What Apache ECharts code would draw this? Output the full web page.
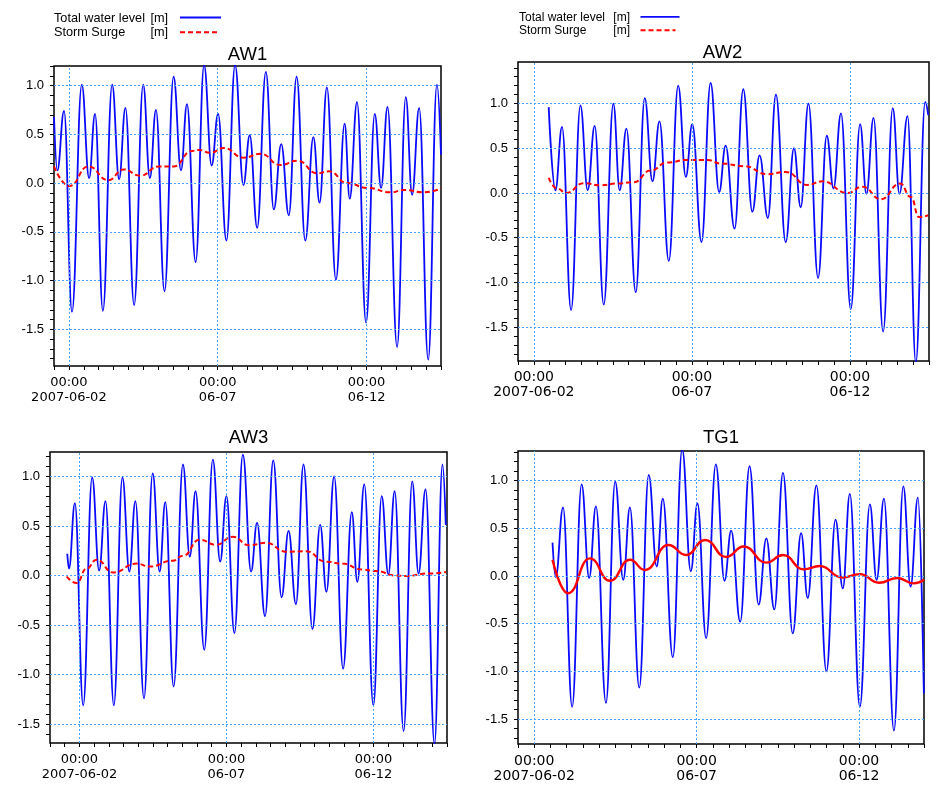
<!DOCTYPE html>
<html><head><meta charset="utf-8">
<script src="https://cdn.jsdelivr.net/npm/echarts@6/dist/echarts.min.js"></script>
<style>html,body{margin:0;padding:0;background:#fff}#c{width:936px;height:791px}</style>
</head><body><div id="c"></div>
<script>
// Times are hours after 2007-06-01 00:00, values in metres
const aw1LevelHours = [12.0,14.7,20.1,26.5,34.4,40.3,45.1,51.4,58.9,64.5,69.6,76.6,83.9,89.3,94.2,101.1,108.4,114.4,119.2,126.2,133.0,139.1,144.3,151.0,158.0,164.7,169.8,175.8,182.8,189.2,195.2,201.3,207.6,214.6,221.1,226.1,232.0,239.3,246.3,250.4,256.3,263.6,270.6,275.7,280.9,288.6,295.6,300.7,306.4,313.7,320.7,324.0];
const aw1Level = [0.68,0.13,0.74,-1.32,1.01,0.05,0.71,-1.31,1.01,0.04,0.77,-1.25,1.01,0.05,0.75,-1.11,1.09,0.13,0.81,-0.81,1.21,0.18,0.71,-0.59,1.21,-0.02,0.49,-0.46,1.14,-0.27,0.40,-0.33,1.09,-0.59,0.47,-0.20,0.98,-0.99,0.61,-0.16,0.83,-1.43,0.71,-0.05,0.78,-1.68,0.88,-0.12,0.77,-1.81,1.01,0.29];
const aw1SurgeHours = [12.0,24.4,39.7,55.9,68.0,81.5,96.3,108.4,123.3,128.6,138.1,148.8,165.0,178.5,194.6,208.1,224.3,233.7,248.5,264.7,283.5,294.3,310.4,324.0];
const aw1Surge = [0.17,-0.03,0.17,0.03,0.14,0.075,0.17,0.17,0.33,0.34,0.31,0.36,0.26,0.30,0.185,0.23,0.10,0.12,0.0,-0.05,-0.095,-0.07,-0.095,-0.055];

const aw2LevelHours = [35.3,40.4,45.4,52.3,59.4,64.9,70.2,77.1,84.4,89.2,94.3,101.4,108.2,114.1,119.4,126.5,133.6,139.4,144.3,151.3,158.2,164.7,169.6,176.4,183.0,189.9,195.4,201.7,207.8,215.2,221.5,226.6,232.5,239.8,246.4,251.5,257.2,264.6,271.7,276.5,281.9,289.2,296.5,301.6,307.7,314.0,321.1,323.4];
const aw2Level = [0.96,0.03,0.74,-1.31,0.98,0.03,0.75,-1.25,1.0,0.03,0.72,-1.11,1.06,0.13,0.80,-0.76,1.20,0.18,0.77,-0.55,1.23,0.01,0.53,-0.40,1.16,-0.21,0.42,-0.28,1.10,-0.55,0.50,-0.16,1.0,-0.95,0.64,0.05,0.89,-1.30,0.77,-0.01,0.84,-1.55,0.95,-0.01,0.86,-1.9,1.02,0.87];
const aw2SurgeHours = [35.3,41.6,48.7,61.9,74.6,87.3,99.9,112.6,125.3,140.5,155.7,165.8,183.5,201.3,215.2,231.7,243.1,262.1,273.5,287.4,302.1,310.2,316.5,323.4];
const aw2Surge = [0.17,0.05,0.0,0.11,0.086,0.105,0.12,0.25,0.34,0.37,0.37,0.33,0.30,0.21,0.235,0.09,0.13,0.0,0.07,-0.07,0.105,-0.045,-0.27,-0.25];

const aw3LevelHours = [14.1,15.5,20.3,27.1,34.4,40.1,45.3,52.1,59.1,64.8,69.7,76.7,83.8,89.5,94.1,100.9,108.5,114.1,118.8,125.9,132.9,138.9,144.0,150.5,157.4,164.1,169.0,175.5,182.2,189.0,194.7,200.7,206.9,214.2,220.5,225.6,231.9,239.2,246.3,250.8,256.5,263.9,270.7,276.1,281.3,288.6,295.6,300.8,306.5,313.8,320.3,323.0];
const aw3Level = [0.22,0.07,0.73,-1.31,0.99,0.05,0.75,-1.31,0.99,0.04,0.75,-1.24,1.03,0.04,0.74,-1.12,1.12,0.19,0.85,-0.75,1.17,0.14,0.80,-0.58,1.22,0.04,0.53,-0.41,1.16,-0.22,0.45,-0.29,1.12,-0.54,0.51,-0.165,1.0,-0.94,0.64,-0.065,0.92,-1.31,0.80,0.01,0.85,-1.57,0.95,0.02,0.87,-1.70,1.12,0.51];
const aw3SurgeHours = [13.6,21.7,29.9,38.0,51.5,70.5,81.4,100.3,108.5,122.0,135.6,149.1,162.7,176.3,192.6,208.9,225.1,238.6,254.9,265.8,282.1,290.2,309.2,323.2];
const aw3Surge = [-0.01,-0.075,0.07,0.16,0.03,0.12,0.09,0.15,0.20,0.36,0.31,0.39,0.305,0.33,0.24,0.245,0.14,0.12,0.06,0.045,0.0,-0.005,0.02,0.035];

const tg1LevelHours = [37.5,39.9,45.3,52.0,59.0,64.6,69.6,77.0,83.8,89.8,94.7,101.6,108.6,114.5,119.0,126.4,133.3,139.7,144.6,151.0,158.2,164.6,169.5,176.2,183.1,189.8,195.5,201.4,207.8,215.0,221.2,226.1,232.5,239.9,246.6,252.0,257.2,264.6,272.0,277.0,282.4,289.8,296.7,302.1,307.5,311.9];
const tg1Level = [0.35,-0.01,0.72,-1.37,0.96,-0.02,0.73,-1.33,0.99,-0.04,0.72,-1.17,1.06,0.10,0.81,-0.85,1.33,0.05,0.76,-0.65,1.17,-0.05,0.475,-0.48,1.15,-0.30,0.395,-0.35,1.08,-0.60,0.45,-0.23,0.95,-1.0,0.59,-0.13,0.86,-1.37,0.75,-0.04,0.81,-1.62,0.94,-0.11,0.825,-1.23];
const tg1SurgeHours = [37.5,49.0,65.1,79.9,94.7,105.8,123.1,136.2,150.2,165.8,178.7,195.5,207.8,223.1,235.0,251.5,264.6,278.7,292.3,304.6,312.0];
const tg1Surge = [0.17,-0.18,0.185,-0.05,0.17,0.063,0.325,0.22,0.377,0.20,0.31,0.14,0.22,0.07,0.105,-0.015,0.02,-0.07,-0.02,-0.077,-0.04];

const panelTitles = ['AW1','AW2','AW3','TG1'];
const seriesNames = ['Total water level','Storm Surge'];
const unitLabel = '[m]';
const xLabelHours = [24,144,264];
const xLabelTexts = ['00:00\n2007-06-02','00:00\n06-07','00:00\n06-12'];
const yLabelValues = [-1.5,-1.0,-0.5,0.0,0.5,1.0];

const T0 = Date.UTC(2007,5,1,0,0);
const HOUR = 3600000;
const toMs = h => T0 + h*HOUR;
const pairs = (hs, vs) => hs.map((h,i) => [toMs(h), vs[i]]);

const BLUE = '#0a0aff', RED = '#ff0000';
const panels = [
  {grid:{left:54,top:66,width:387,height:300}, xMinH:12, xMaxH:324, yMin:-1.875, yMax:1.2, lh:aw1LevelHours, lv:aw1Level, sh:aw1SurgeHours, sv:aw1Surge, dashed:true, title:[247.5,54.5], xFont:13, xMargin:9.5},
  {grid:{left:518,top:62,width:411,height:299}, xMinH:12, xMaxH:324, yMin:-1.88, yMax:1.465, lh:aw2LevelHours, lv:aw2Level, sh:aw2SurgeHours, sv:aw2Surge, dashed:true, title:[722.5,52.5], xFont:14, xMargin:9},
  {grid:{left:50,top:452,width:397,height:291}, xMinH:0, xMaxH:324, yMin:-1.69, yMax:1.246, lh:aw3LevelHours, lv:aw3Level, sh:aw3SurgeHours, sv:aw3Surge, dashed:true, title:[248.5,438], xFont:13, xMargin:9},
  {grid:{left:518,top:451,width:406,height:293}, xMinH:12, xMaxH:312, yMin:-1.76, yMax:1.31, lh:tg1LevelHours, lv:tg1Level, sh:tg1SurgeHours, sv:tg1Surge, dashed:false, title:[721,438], xFont:14, xMargin:10}
];

const grids=[], xAxes=[], yAxes=[], series=[], graphics=[];
const gridColor = '#4aa3ff';
panels.forEach((p,i) => {
  grids.push(Object.assign({show:true, borderColor:'#000', borderWidth:1.5, backgroundColor:'transparent', containLabel:false}, p.grid));
  const xTicks=[];
  for (let h=p.xMinH; h<=p.xMaxH+1e-9; h+=12) xTicks.push(toMs(h));
  const yTicks=[];
  for (let k=-25;k<=20;k++){ const v=k/10; if (v>=p.yMin-1e-9 && v<=p.yMax+1e-9) yTicks.push(v); }
  xAxes.push({
    type:'value', gridIndex:i, min:toMs(p.xMinH), max:toMs(p.xMaxH), position:'bottom',
    axisLine:{show:false, onZero:false}, splitLine:{show:false},
    axisTick:{show:true, inside:false, length:4, customValues:xTicks, lineStyle:{color:'#000', width:1}},
    axisLabel:{show:true, customValues:xLabelHours.map(toMs), margin:p.xMargin, color:'#000',
      fontFamily:'DejaVu Sans', fontSize:p.xFont, lineHeight:15, align:'center',
      formatter: v => { const h=Math.round((v-T0)/HOUR); const j=xLabelHours.indexOf(h); return j>=0?xLabelTexts[j]:''; }}
  });
  yAxes.push({
    type:'value', gridIndex:i, min:p.yMin, max:p.yMax, position:'left',
    axisLine:{show:false, onZero:false}, splitLine:{show:false},
    axisTick:{show:true, inside:false, length:4, customValues:yTicks, lineStyle:{color:'#000', width:1}},
    axisLabel:{show:true, customValues:yLabelValues, margin:10, color:'#000', fontFamily:'Liberation Sans', fontSize:13,
      formatter: v => v.toFixed(1)}
  });
  series.push({
    type:'line', xAxisIndex:i, yAxisIndex:i, data:[], silent:true, z:1,
    markLine:{silent:true, symbol:['none','none'], animation:false, label:{show:false},
      lineStyle:{color:gridColor, width:1, type:[2,2]},
      emphasis:{disabled:true},
      data: yLabelValues.map(v=>({yAxis:v})).concat(xLabelHours.map(h=>({xAxis:toMs(h)})))}
  });
  series.push({
    name:seriesNames[0], type:'line', xAxisIndex:i, yAxisIndex:i, data:pairs(p.lh,p.lv),
    smooth:0.42, smoothMonotone:'x', symbol:'none', z:2, clip:true,
    lineStyle:{color:BLUE, width:1.8}, itemStyle:{color:BLUE}
  });
  series.push({
    name:seriesNames[1], type:'line', xAxisIndex:i, yAxisIndex:i, data:pairs(p.sh,p.sv),
    smooth:0.5, smoothMonotone:'x', symbol:'none', z:3, clip:true,
    lineStyle:{color:RED, width:p.dashed?2:2.4, type:p.dashed?[5,3]:'solid'}, itemStyle:{color:RED}
  });
  graphics.push({type:'text', x:p.title[0], y:p.title[1], silent:true,
    style:{text:panelTitles[i], align:'center', verticalAlign:'middle', fill:'#000', fontFamily:'Liberation Sans', fontSize:18.5}});
});

// Legend blocks (text + line samples)
function legendBlock(x, y1, y2, fs, unitX, lineX, lineW1, lineW2){
  const f = {fill:'#000', fontFamily:'Liberation Sans', fontSize:fs, verticalAlign:'middle', align:'left'};
  graphics.push({type:'text', x:x, y:y1, silent:true, style:Object.assign({text:seriesNames[0]}, f)});
  graphics.push({type:'text', x:unitX, y:y1, silent:true, style:Object.assign({text:unitLabel}, f)});
  graphics.push({type:'text', x:x, y:y2, silent:true, style:Object.assign({text:seriesNames[1]}, f)});
  graphics.push({type:'text', x:unitX, y:y2, silent:true, style:Object.assign({text:unitLabel}, f)});
  graphics.push({type:'line', silent:true, shape:{x1:lineX, y1:y1-0.5, x2:lineX+lineW1, y2:y1-0.5}, style:{stroke:BLUE, lineWidth:1.8}});
  graphics.push({type:'line', silent:true, shape:{x1:lineX, y1:y2-0.5, x2:lineX+lineW2, y2:y2-0.5}, style:{stroke:RED, lineWidth:2, lineDash:[5,3]}});
}
legendBlock(54, 18, 32.7, 12.7, 150.5, 180, 41, 38);
legendBlock(519, 17.3, 30.7, 12, 613.3, 640.5, 39, 35);

const chart = echarts.init(document.getElementById('c'), null, {renderer:'canvas'});
chart.setOption({
  animation:false,
  backgroundColor:'#fff',
  grid:grids, xAxis:xAxes, yAxis:yAxes, series:series,
  graphic:graphics
});
</script></body></html>
